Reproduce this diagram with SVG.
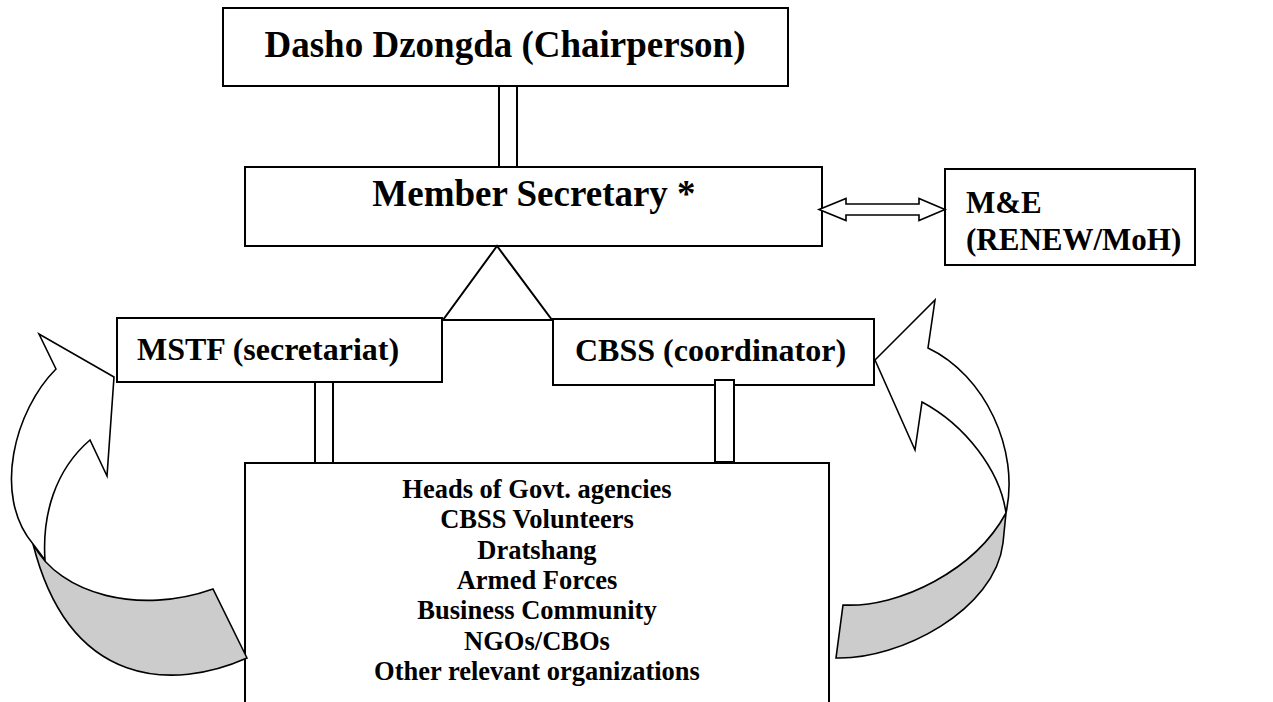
<svg xmlns="http://www.w3.org/2000/svg" width="1273" height="702" viewBox="0 0 1273 702">
<style>
.box{fill:#fff;stroke:#000;stroke-width:2}
.t{font-family:"Liberation Serif","Times New Roman",serif;font-weight:bold;fill:#000}
.ln{fill:none;stroke:#000;stroke-width:2}
.blk{fill:#fff;stroke:#000;stroke-width:1.6;stroke-linejoin:miter}
.gry{fill:#cccccc;stroke:#000;stroke-width:1.6}
</style>
<rect width="1273" height="702" fill="#fff"/>
<g id="chair">
<rect class="box" x="223" y="8" width="565" height="78"/>
<text class="t" x="505" y="57" font-size="37" text-anchor="middle">Dasho Dzongda (Chairperson)</text>
</g>
<g id="member-secretary">
<rect class="box" x="245" y="167" width="577" height="79"/>
<text class="t" x="534" y="206" font-size="37" text-anchor="middle">Member Secretary *</text>
</g>
<g id="me">
<rect class="box" x="945" y="169" width="250" height="96"/>
<text class="t" x="966" y="213" font-size="31">M&amp;E</text>
<text class="t" x="966" y="250" font-size="31">(RENEW/MoH)</text>
</g>
<g id="mstf">
<rect class="box" x="117" y="318" width="325" height="64"/>
<text class="t" x="137" y="360" font-size="32">MSTF (secretariat)</text>
</g>
<g id="cbss">
<rect class="box" x="553" y="319" width="321" height="66"/>
<text class="t" x="575" y="361" font-size="32">CBSS (coordinator)</text>
</g>
<g id="members">
<rect class="box" x="245" y="463" width="584" height="250"/>
<g class="t" font-size="26.5" text-anchor="middle">
<text x="537" y="498">Heads of Govt. agencies</text>
<text x="537" y="528">CBSS Volunteers</text>
<text x="537" y="559">Dratshang</text>
<text x="537" y="589">Armed Forces</text>
<text x="537" y="619">Business Community</text>
<text x="537" y="650">NGOs/CBOs</text>
<text x="537" y="680">Other relevant organizations</text>
</g>
</g>
<g id="connectors">
<line class="ln" x1="499" y1="86" x2="499" y2="167"/>
<line class="ln" x1="517" y1="86" x2="517" y2="167"/>
<polygon class="ln" points="497,246 443,320 552,320"/>
<path class="blk" d="M819,209.5 L846,198.5 L846,204 L919,204 L919,198.5 L945,209.5 L919,220.5 L919,215 L846,215 L846,220.5 Z"/>
<line class="ln" x1="315" y1="382" x2="315" y2="463"/>
<line class="ln" x1="333" y1="382" x2="333" y2="463"/>
<rect class="box" x="715" y="380" width="19" height="82"/>
<path class="gry" d="M33,544 C60,595 140,615 213,589 L247,658 C175,690 70,690 33,544 Z"/>
<path class="blk" d="M114,377 L39,334 L56,369 C15,410 -8,495 33,544 L45,560 C42,515 55,470 90,440 L107,476 Z"/>
<path class="gry" d="M1006,513 L1003,543 C995,610 900,660 836,658 L843,605 C900,608 975,570 1006,513 Z"/>
<path class="blk" d="M875,360 L935,300 L928,348 C985,375 1020,450 1006,513 C1000,470 965,425 922,402 L915,450 Z"/>
</g>
</svg>
